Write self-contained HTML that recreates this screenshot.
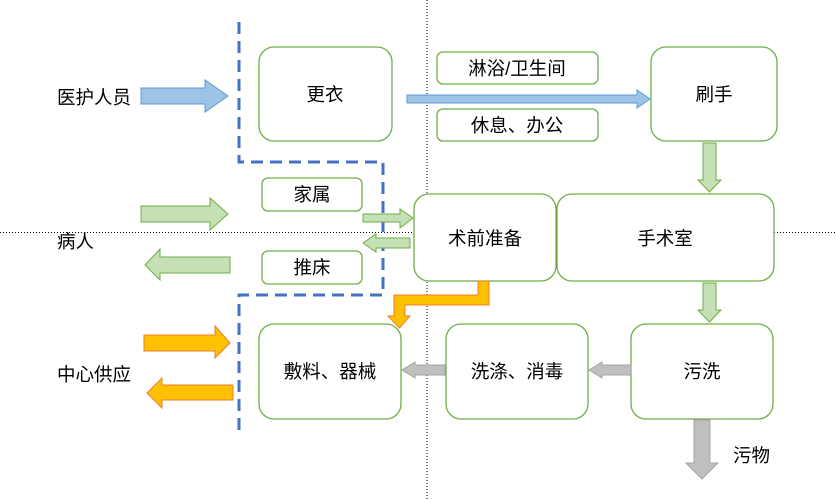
<!DOCTYPE html>
<html><head><meta charset="utf-8"><style>
html,body{margin:0;padding:0;background:#fff}
svg{display:block}
text{font-family:"Liberation Sans","Noto Sans CJK SC",sans-serif;font-size:18.5px;fill:#000}
</style></head><body>
<svg width="836" height="500" viewBox="0 0 836 500" xmlns="http://www.w3.org/2000/svg">
<line x1="427" y1="0" x2="427" y2="500" stroke="#000" stroke-width="1" stroke-dasharray="1,2"/>
<line x1="0" y1="232.5" x2="836" y2="232.5" stroke="#000" stroke-width="1" stroke-dasharray="1,2"/>
<polyline points="239,22 239,162 383,162 383,295 239,295 239,432" fill="none" stroke="#4472c4" stroke-width="3" stroke-dasharray="12,7"/>
<g fill="#fff" stroke="#70ad47" stroke-width="1.3">
<rect x="259" y="47" width="133" height="94" rx="15"/>
<rect x="437" y="52" width="161" height="32" rx="6"/>
<rect x="437" y="109" width="161" height="32" rx="6"/>
<rect x="651" y="47" width="126" height="94" rx="15"/>
<rect x="262" y="178" width="100" height="33" rx="6"/>
<rect x="262" y="251" width="100" height="33" rx="6"/>
<rect x="414" y="194" width="142" height="87" rx="15"/>
<rect x="557" y="194" width="217" height="87" rx="15"/>
<rect x="259" y="324" width="142" height="95" rx="15"/>
<rect x="446" y="324" width="142" height="95" rx="15"/>
<rect x="631" y="324" width="142" height="95" rx="15"/>
</g>
<g fill="#9dc3e6" stroke="#5b9bd5" stroke-width="1">
<polygon points="141,88 205,88 205,80 228,96 205,112 205,104 141,104"/>
<polygon points="407,95 637,95 637,90 650,99 637,108 637,103 407,103"/>
</g>
<g fill="#c5e0b4" stroke="#70ad47" stroke-width="1">
<polygon points="703,143 716,143 716,180 721,180 709.5,192 698,180 703,180"/>
<polygon points="703,283 716,283 716,310 721,310 709.5,322 698,310 703,310"/>
<polygon points="141,206 210,206 210,198 228,214 210,230 210,222 141,222"/>
<polygon points="363,214 400,214 400,209 413,218 400,228 400,222 363,222"/>
<polygon points="410,238 376,238 376,234 363,243 376,252 376,248 410,248"/>
<polygon points="230,257 160,257 160,249 145,265 160,280 160,273 230,273"/>
</g>
<g fill="#ffc000" stroke="#ed7d31" stroke-width="1">
<polygon points="478,281 489,281 489,305 405,305 405,316 410,316 399.5,328 388,316 394,316 394,295 478,295"/>
<polygon points="144,335 215,335 215,326 230,343 215,358 215,351 144,351"/>
<polygon points="233,385 162,385 162,378 147,393 162,408 162,400 233,400"/>
</g>
<g fill="#bfbfbf" stroke="#a5a5a5" stroke-width="1">
<polygon points="445,365 415,365 415,362 402,370 415,378 415,375 445,375"/>
<polygon points="631,365 602,365 602,362 589,370 602,378 602,375 631,375"/>
<polygon points="694,420 710,420 710,463 718,463 702,479 686,463 694,463"/>
</g>
<text x="57" y="104">医护人员</text>
<text x="57" y="248">病人</text>
<text x="57" y="381">中心供应</text>
<text x="733" y="462">污物</text>
<g text-anchor="middle">
<text x="325" y="101">更衣</text>
<text x="517" y="75">淋浴/卫生间</text>
<text x="517" y="132">休息、办公</text>
<text x="714" y="101">刷手</text>
<text x="312" y="201">家属</text>
<text x="312" y="274">推床</text>
<text x="485" y="245">术前准备</text>
<text x="665" y="245">手术室</text>
<text x="330" y="378">敷料、器械</text>
<text x="517" y="378">洗涤、消毒</text>
<text x="702" y="378">污洗</text>
</g>
</svg>
</body></html>
